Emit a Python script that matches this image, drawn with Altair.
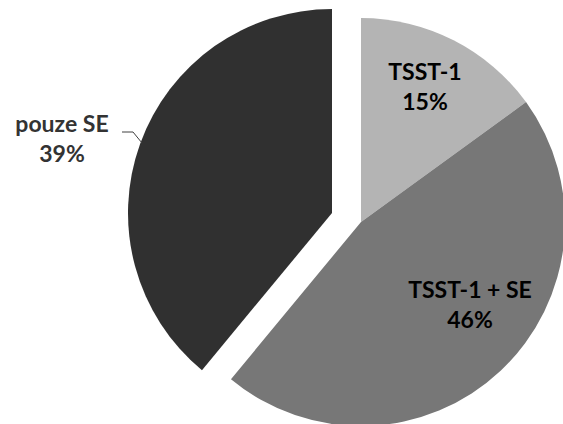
import altair as alt
import pandas as pd

# Shares of toxin gene profiles (percent)
categories = ["TSST-1", "TSST-1 + SE", "pouze SE"]
shares = [15, 46, 39]
fills = ["#b4b4b4", "#777777", "#303030"]

df = pd.DataFrame({"kategorie": categories, "podil": shares, "poradi": [0, 1, 2]})

R = 204  # pie radius in px

base = (
    alt.Chart(df)
    .transform_window(konec="sum(podil)", sort=[{"field": "poradi"}], frame=[None, 0])
    .transform_calculate(zacatek="datum.konec - datum.podil",
                         popisek="datum.kategorie + '\\n' + datum.podil + '%'")
)

theta = alt.Theta("zacatek:Q", scale=alt.Scale(domain=[0, 100]))
color = alt.Color("kategorie:N", scale=alt.Scale(domain=categories, range=fills), legend=None)

# the two joined slices
pie_main = base.transform_filter(alt.datum.kategorie != "pouze SE").mark_arc(
    outerRadius=R, stroke=None
).encode(theta=theta, theta2="konec:Q", color=color,
         x=alt.value(361), y=alt.value(222))

# the pulled-out slice
pie_out = base.transform_filter(alt.datum.kategorie == "pouze SE").mark_arc(
    outerRadius=R, stroke=None
).encode(theta=theta, theta2="konec:Q", color=color,
         x=alt.value(332), y=alt.value(213))


def label(cat, x, y, colour):
    return base.transform_filter(alt.datum.kategorie == cat).mark_text(
        font="Lato", fontWeight="bold", fontSize=23, lineHeight=30,
        lineBreak="\n", align="center", baseline="alphabetic", color=colour
    ).encode(text="popisek:N", x=alt.value(x), y=alt.value(y))


lab1 = label("TSST-1", 425, 80, "#000000")
lab2 = label("TSST-1 + SE", 470, 298, "#000000")
lab3 = label("pouze SE", 62, 132, "#333333")

# leader line from the outside label to its slice
leader_a = base.transform_filter(alt.datum.kategorie == "pouze SE").mark_rule(
    color="#404040", strokeWidth=1
).encode(x=alt.value(122), x2=alt.value(133), y=alt.value(132), y2=alt.value(132))
leader_b = base.transform_filter(alt.datum.kategorie == "pouze SE").mark_rule(
    color="#404040", strokeWidth=1
).encode(x=alt.value(133), x2=alt.value(142), y=alt.value(132), y2=alt.value(143))

chart = (
    alt.layer(pie_main, pie_out, leader_a, leader_b, lab1, lab2, lab3)
    .properties(width=563, height=424, padding=0, autosize="none", background="white")
    .configure_view(stroke=None)
)

chart.save("out.html", embed_options={"renderer": "svg", "actions": False})
